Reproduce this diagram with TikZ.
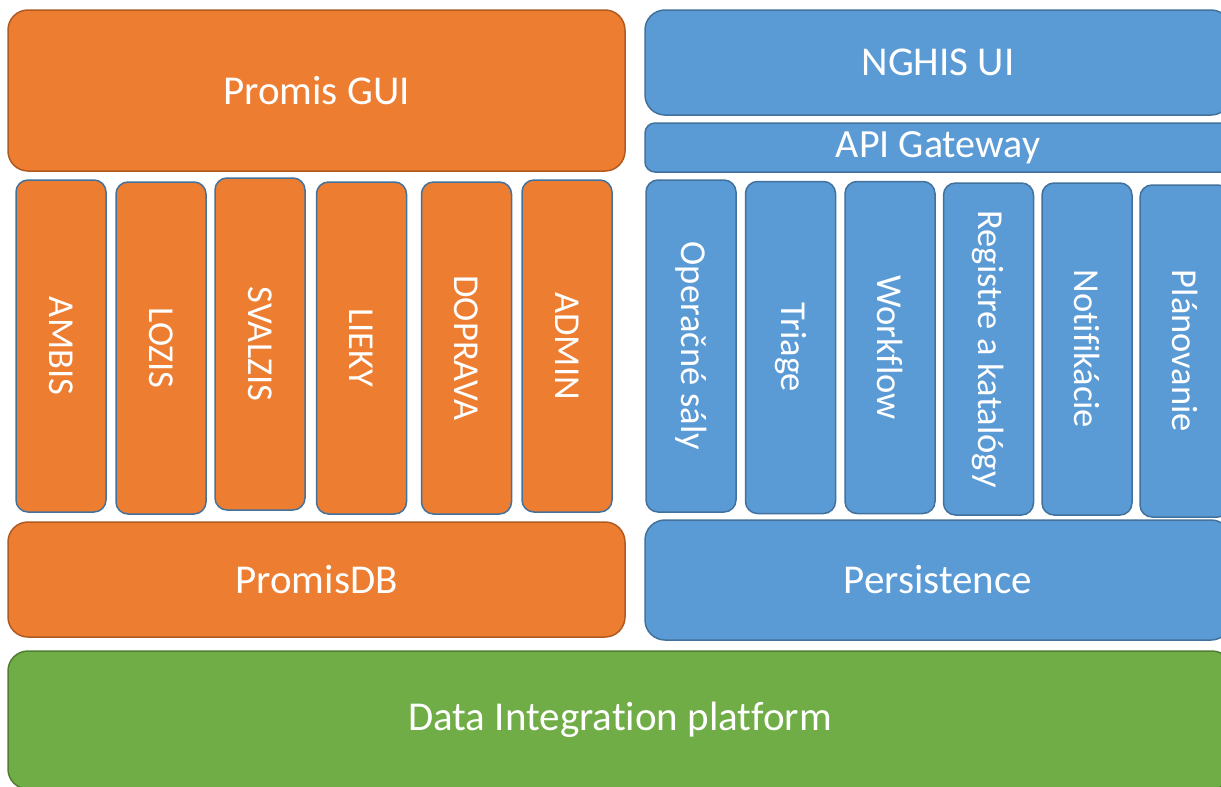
\documentclass[tikz,border=0pt]{standalone}
\usepackage{fontspec}
\setmainfont{Carlito}[Ligatures={NoCommon}]
\usepackage{tikz}
\usetikzlibrary{positioning}
\definecolor{porange}{HTML}{ED7D31}
\definecolor{porangeline}{HTML}{AE5A21}
\definecolor{nblue}{HTML}{5B9BD5}
\definecolor{nblueline}{HTML}{41719C}
\definecolor{dgreen}{HTML}{70AD47}
\definecolor{dgreenline}{HTML}{507E32}
\tikzstyle{bigbox}=[rectangle, draw, line width=1.5pt, rounded corners=20pt, text=white, font=\fontsize{41}{46}\selectfont, inner sep=0pt]
\tikzstyle{pbig}=[bigbox, fill=porange, draw=porangeline]
\tikzstyle{nbig}=[bigbox, fill=nblue, draw=nblueline]
\tikzstyle{colbox}=[rectangle, draw=nblueline, line width=1.5pt, rounded corners=12pt, text=white, minimum width=90pt, minimum height=332pt, inner sep=0pt, font=\fontsize{36.5}{42}\selectfont]
\tikzstyle{pcol}=[colbox, fill=porange]
\tikzstyle{ncol}=[colbox, fill=nblue]

\begin{document}
\begin{tikzpicture}[x=1pt,y=-1pt]
	\useasboundingbox (0,0) rectangle (1221,787);
	\clip (0,0) rectangle (1221,787);

	%%% left stack - Promis
	\node[pbig,minimum width=617pt,minimum height=161pt] (promisGui) at (316.5,90.5) {Promis GUI};

	\node[pcol] (ambis) at (61,346) {\rotatebox{-90}{AMBIS}};
	\node[pcol] (lozis) at (161,348) {\rotatebox{-90}{LOZIS}};
	\node[pcol] (svalzis) at (260,344) {\rotatebox{-90}{SVALZIS}};
	\node[pcol] (lieky) at (361.5,348) {\rotatebox{-90}{LIEKY}};
	\node[pcol] (doprava) at (466.5,348) {\rotatebox{-90}{DOPRAVA}};
	\node[pcol] (admin) at (567,346) {\rotatebox{-90}{ADMIN}};

	\node[pbig,minimum width=617pt,minimum height=115pt] (promisDb) at (316.5,579.5) {PromisDB};

	%%% right stack - NGHIS
	\node[nbig,minimum width=586pt,minimum height=105pt] (nghisUi) at (938,62.5) {NGHIS UI};
	\node[nbig,minimum width=586pt,minimum height=49pt,rounded corners=10pt,font=\fontsize{40}{44}\selectfont] (apiGw) at (938,147.5) {API Gateway};

	\node[ncol] (operacne) at (691,346) {\rotatebox{-90}{Operačné sály}};
	\node[ncol] (triage) at (790.5,347.5) {\rotatebox{-90}{Triage}};
	\node[ncol] (workflow) at (890,347.5) {\rotatebox{-90}{Workflow}};
	\node[ncol] (registre) at (988.5,349) {\rotatebox{-90}{Registre a katalógy}};
	\node[ncol] (notifikacie) at (1087,349) {\rotatebox{-90}{Notifikácie}};
	\node[ncol] (planovanie) at (1185,351) {\rotatebox{-90}{Plánovanie}};

	\node[nbig,minimum width=586pt,minimum height=120pt] (persistence) at (938,580) {Persistence};

	%%% bottom - integration
	\node[bigbox,fill=dgreen,draw=dgreenline,minimum width=1224pt,minimum height=138pt] (dip) at (620,720) {Data Integration platform};
\end{tikzpicture}
\end{document}
